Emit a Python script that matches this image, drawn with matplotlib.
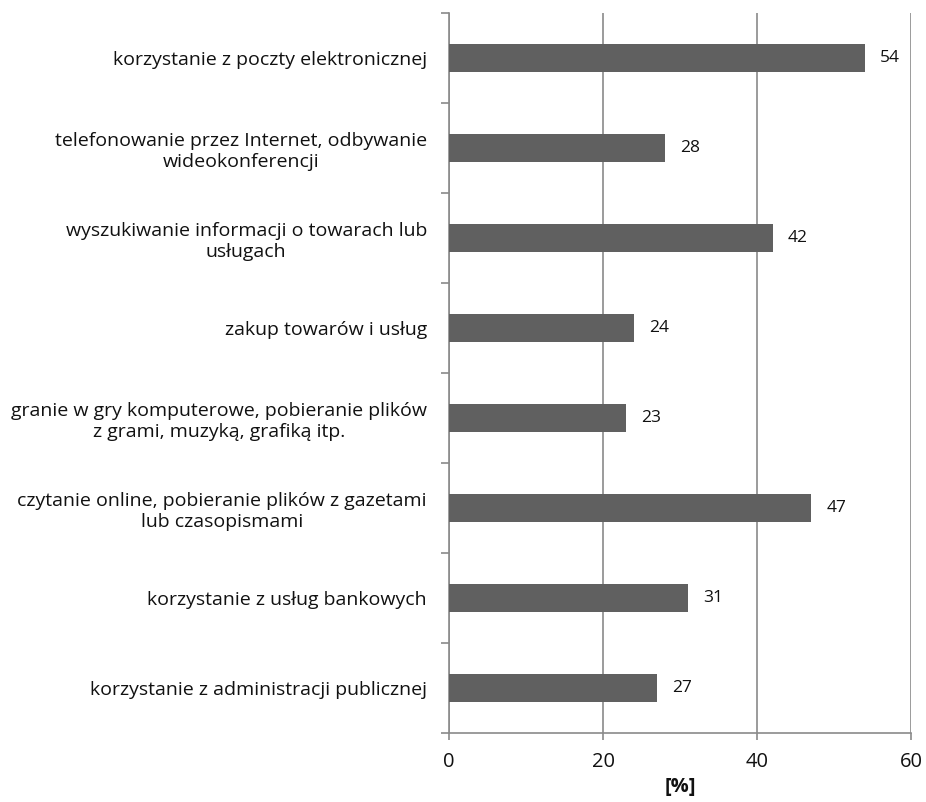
import matplotlib.pyplot as plt
import numpy as np

plt.rcParams['font.family'] = ['Open Sans', 'DejaVu Sans']

# Zakres korzystania z Internetu (w %)
kategorie = [
    "korzystanie z poczty elektronicznej",
    "telefonowanie przez Internet, odbywanie\nwideokonferencji",
    "wyszukiwanie informacji o towarach lub\nusługach",
    "zakup towarów i usług",
    "granie w gry komputerowe, pobieranie plików\nz grami, muzyką, grafiką itp.",
    "czytanie online, pobieranie plików z gazetami\nlub czasopismami",
    "korzystanie z usług bankowych",
    "korzystanie z administracji publicznej",
]
wartosci = [54, 28, 42, 24, 23, 47, 31, 27]
x_ticks = [0, 20, 40, 60]

kolor_slupka = '#606060'
kolor_osi = '#8a8a8a'

fig = plt.figure(figsize=(9.26, 8.02), dpi=100)
ax = fig.add_axes([0.485, 0.086, 0.499, 0.898])

y = np.arange(len(kategorie))
ax.barh(y, wartosci, height=0.31, color=kolor_slupka, zorder=3)

for yi, v in zip(y, wartosci):
    ax.annotate(str(v), (v, yi), xytext=(11, 0), textcoords='offset points',
                va='center', ha='left', fontsize=12.5, color='#111111')

ax.set_ylim(len(kategorie) - 0.5, -0.5)
ax.set_xlim(0, 60)
ax.set_xticks(x_ticks)
ax.set_yticks(y)
ax.set_yticklabels(kategorie, multialignment='center', fontsize=14,
                   color='#111111', linespacing=1.25)
ax.set_yticks(np.arange(len(kategorie) + 1) - 0.5, minor=True)
ax.tick_params(axis='y', which='major', length=0, pad=16)
ax.tick_params(axis='y', which='minor', length=6, width=1.2, color=kolor_osi)
ax.tick_params(axis='x', length=5, width=1.2, color=kolor_osi, labelsize=14.5,
               labelcolor='#111111', pad=9)

ax.grid(axis='x', color=kolor_osi, linewidth=1.2, zorder=0)
for side in ['top', 'right']:
    ax.spines[side].set_visible(False)
for side in ['left', 'bottom']:
    ax.spines[side].set_color(kolor_osi)
    ax.spines[side].set_linewidth(1.2)

ax.set_xlabel('[%]', fontweight='bold', fontsize=14.5, labelpad=3, color='#111111')

fig.savefig('out.png', dpi=100)
